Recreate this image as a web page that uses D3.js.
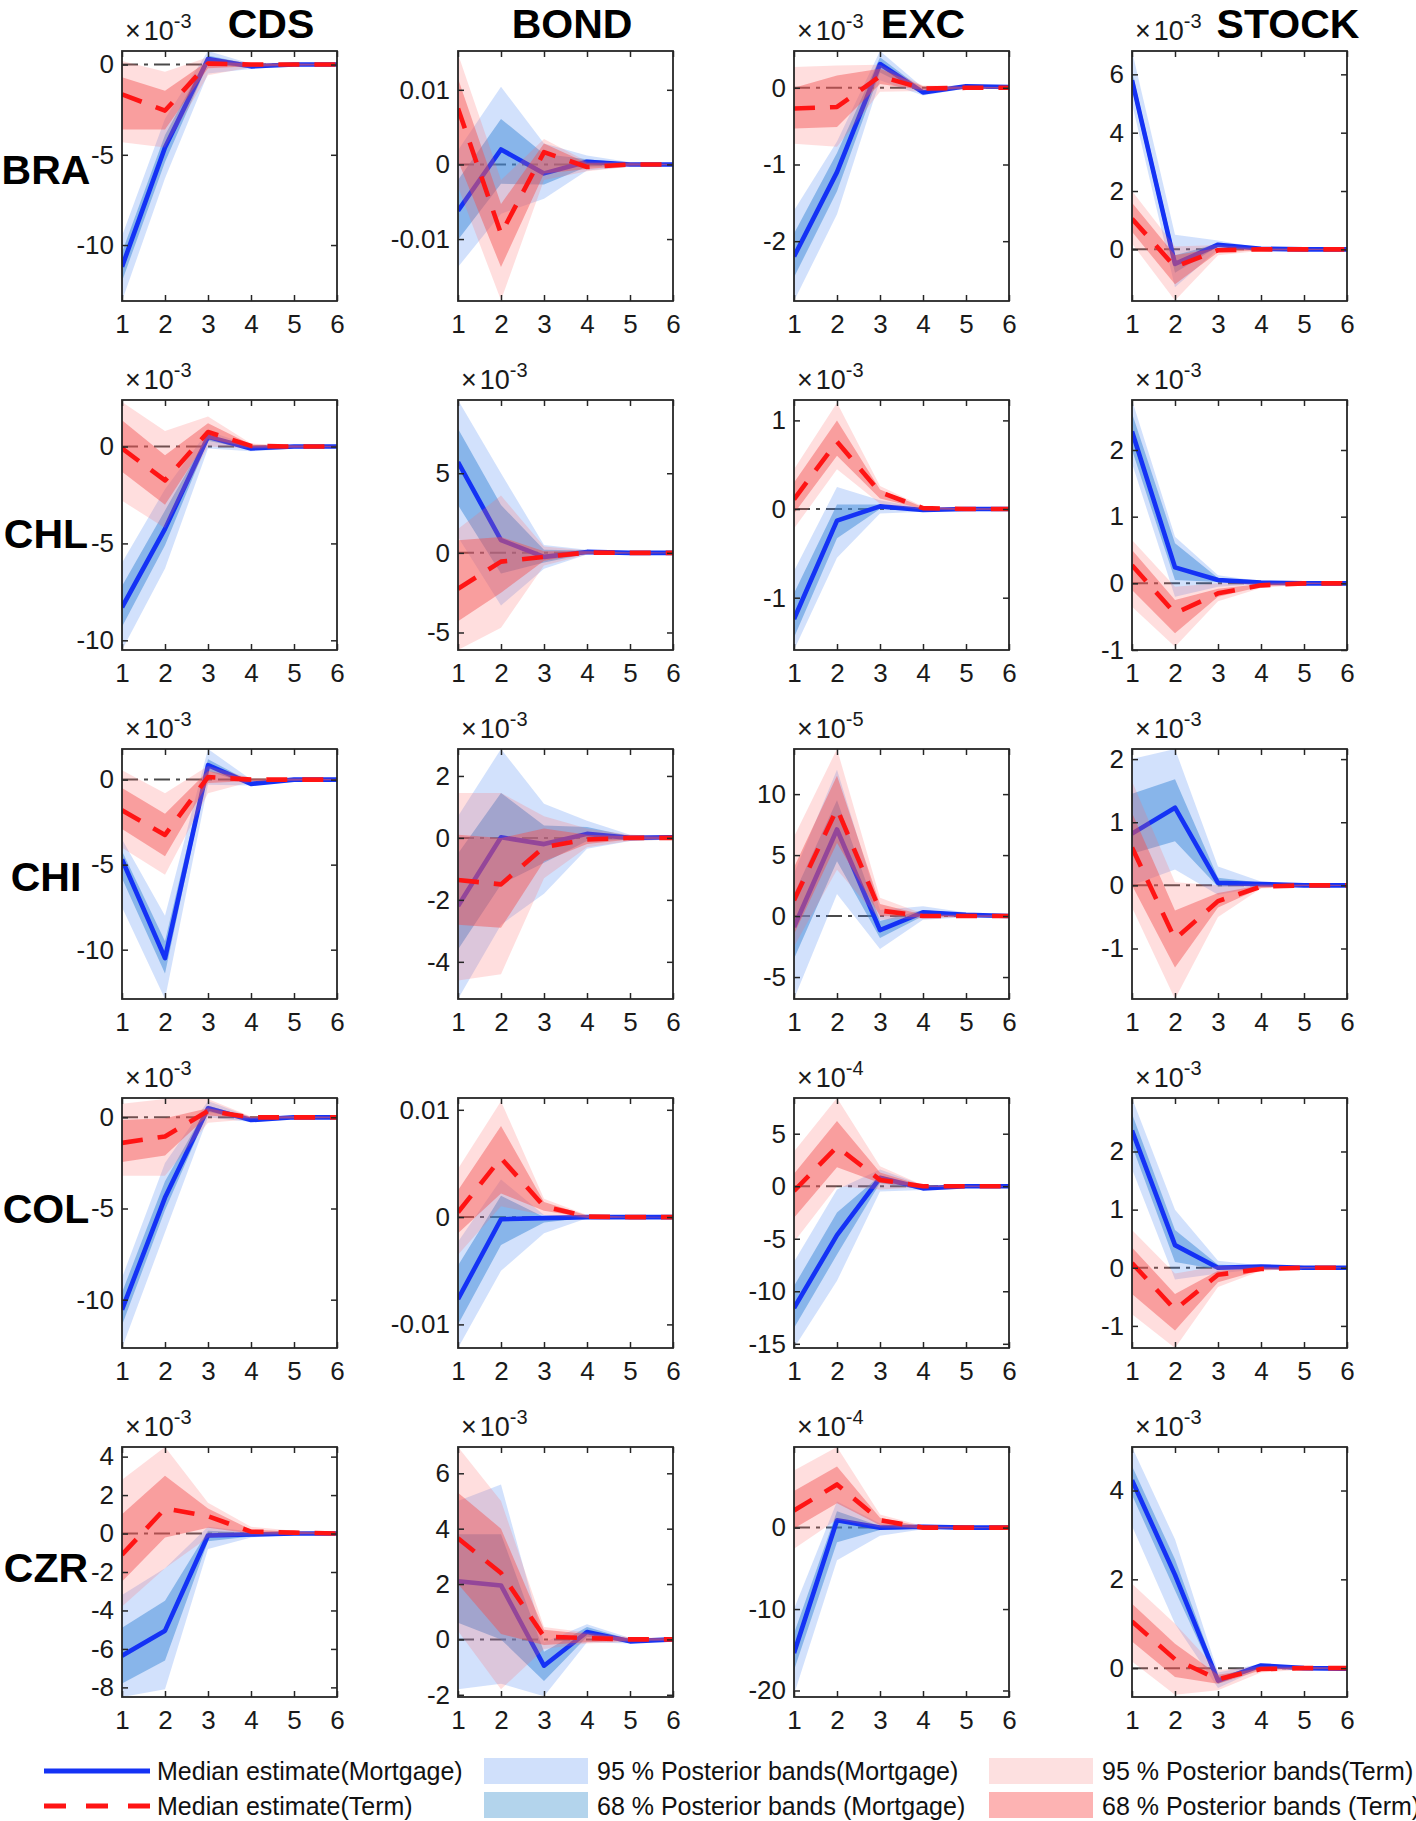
<!DOCTYPE html>
<html><head><meta charset="utf-8">
<script src="https://cdn.jsdelivr.net/npm/d3@7"></script>
<style>
body{margin:0;background:#fff}
svg{display:block}
text{font-family:"Liberation Sans",Arial,Helvetica,sans-serif}
</style>
</head><body>
<svg id="c" width="1416" height="1821"></svg>
<script>
// ---------------- DATA ----------------
const countries = ["BRA","CHL","CHI","COL","CZR"];
const variables = ["CDS","BOND","EXC","STOCK"];
const horizons  = [1,2,3,4,5,6];

// exponent of the axis multiplier ("" = none); values below are in these units
const exponents = [
  ["-3","","-3","-3"],
  ["-3","-3","-3","-3"],
  ["-3","-3","-5","-3"],
  ["-3","","-4","-3"],
  ["-3","-3","-4","-3"]
];
// y-axis limits (same units as the data; BOND for BRA/COL stored in 1e-3 units)
const yMin = [
  [-13.1,-18.3,-2.78,-1.77],
  [-10.5,-6.1,-1.59,-1.0],
  [-12.9,-5.2,-6.8,-1.8],
  [-12.65,-12.2,-15.4,-1.38],
  [-8.5,-2.08,-20.8,-0.65]
];
const yMax = [
  [0.75,15.2,0.48,6.8],
  [2.4,9.6,1.23,2.75],
  [1.8,2.87,13.7,2.16],
  [1.06,11.1,8.4,2.92],
  [4.5,6.95,9.9,4.98]
];
const yTicks = [
  [[-10,-5,0],[-10,0,10],[-2,-1,0],[0,2,4,6]],
  [[-10,-5,0],[-5,0,5],[-1,0,1],[-1,0,1,2]],
  [[-10,-5,0],[-4,-2,0,2],[-5,0,5,10],[-1,0,1,2]],
  [[-10,-5,0],[-10,0,10],[-15,-10,-5,0,5],[-1,0,1,2]],
  [[-8,-6,-4,-2,0,2,4],[-2,0,2,4,6],[-20,-10,0],[0,2,4]]
];
const yTickLabels = [
  [["-10","-5","0"],["-0.01","0","0.01"],["-2","-1","0"],["0","2","4","6"]],
  [["-10","-5","0"],["-5","0","5"],["-1","0","1"],["-1","0","1","2"]],
  [["-10","-5","0"],["-4","-2","0","2"],["-5","0","5","10"],["-1","0","1","2"]],
  [["-10","-5","0"],["-0.01","0","0.01"],["-15","-10","-5","0","5"],["-1","0","1","2"]],
  [["-8","-6","-4","-2","0","2","4"],["-2","0","2","4","6"],["-20","-10","0"],["0","2","4"]]
];

// Mortgage shock: median, 68% and 95% bands
const mortMedian = [
  [[-11.2,-4.6,0.3,-0.1,0,0],[-6.2,2.0,-1.2,0.35,0,0],[-2.2,-1.1,0.31,-0.06,0.02,0.01],[5.8,-0.5,0.16,0.02,0,0]],
  [[-8.3,-4.25,0.5,-0.1,0,0],[5.7,0.8,-0.25,0.06,0,0],[-1.24,-0.13,0.03,-0.01,0,0],[2.28,0.24,0.05,0.01,0,0]],
  [[-4.7,-10.5,0.85,-0.25,0,0],[-2.2,0.02,-0.2,0.13,0,0.02],[-0.9,7.1,-1.15,0.3,0.1,0],[0.82,1.23,0.04,0.02,0,0]],
  [[-10.55,-4.4,0.5,-0.15,0,0],[-7.65,-0.2,-0.1,0,0,0],[-11.6,-4.65,0.8,-0.2,0,0],[2.36,0.39,0.0,0.02,0,0]],
  [[-6.35,-5.05,-0.1,-0.05,0,0],[2.1,1.95,-0.95,0.27,-0.07,0],[-15.4,0.9,0,0.1,0,0],[4.23,2.1,-0.28,0.06,0,-0.01]]
];
const mortLo68 = [
  [[-12.0,-5.4,0.05,-0.2,-0.05,-0.03],[-10.1,-2.6,-2.7,-0.3,-0.15,-0.05],[-2.47,-1.35,0.2,-0.08,0.0,0.0],[5.5,-0.8,0.1,0.0,-0.02,-0.01]],
  [[-9.3,-5.1,0.3,-0.15,-0.05,-0.03],[3.0,-1.3,-0.6,-0.05,-0.03,-0.02],[-1.45,-0.33,0.0,-0.02,-0.01,-0.005],[2.0,0.05,0.02,0.0,-0.01,-0.005]],
  [[-5.8,-11.4,0.5,-0.3,-0.05,-0.03],[-3.6,-1.5,-0.8,-0.1,-0.05,-0.02],[-3.5,4.5,-1.8,0.0,0.0,-0.05],[0.5,0.7,-0.02,0.0,-0.01,-0.005]],
  [[-11.4,-5.1,0.3,-0.2,-0.05,-0.03],[-10.0,-2.6,-0.5,-0.05,-0.03,-0.02],[-13.5,-6.5,0.3,-0.3,-0.05,-0.03],[2.1,0.1,-0.03,0.0,-0.01,-0.005]],
  [[-7.8,-6.6,-0.4,-0.15,-0.05,-0.03],[0.6,0.0,-1.5,0.1,-0.12,-0.03],[-17.5,-1.8,-0.3,-0.1,-0.05,-0.03],[3.9,1.75,-0.35,0.02,-0.02,-0.02]]
];
const mortHi68 = [
  [[-10.4,-3.9,0.5,0,0.05,0.03],[-2.1,6.1,1.4,0.7,0.15,0.05],[-1.9,-0.85,0.4,-0.03,0.03,0.02],[6.1,-0.2,0.2,0.04,0.02,0.01]],
  [[-7.2,-3.3,0.6,0.0,0.05,0.03],[7.8,3.0,0.2,0.15,0.03,0.02],[-0.95,0.05,0.05,0.0,0.01,0.005],[2.55,0.6,0.08,0.02,0.01,0.005]],
  [[-4.2,-9.5,1.2,-0.15,0.05,0.03],[-0.5,1.45,0.4,0.35,0.05,0.04],[1.8,9.5,-0.4,0.5,0.2,0.05],[1.45,1.68,0.12,0.04,0.01,0.005]],
  [[-9.6,-3.5,0.65,-0.05,0.05,0.03],[-4.5,2.0,0.0,0.05,0.03,0.02],[-9.5,-2.5,1.0,-0.05,0.05,0.03],[2.65,0.65,0.05,0.03,0.01,0.005]],
  [[-4.9,-3.5,0.15,0.05,0.05,0.03],[3.8,3.8,-0.45,0.45,0.0,0.03],[-13.0,2.0,0.2,0.2,0.05,0.03],[4.55,2.45,-0.2,0.08,0.02,0.0]]
];
const mortLo95 = [
  [[-13.1,-6.3,-0.5,-0.25,-0.1,-0.05],[-13.75,-6.6,-4.6,-0.8,-0.3,-0.1],[-2.78,-1.65,0.1,-0.1,-0.01,-0.01],[5.0,-1.3,0.0,-0.03,-0.03,-0.02]],
  [[-10.5,-6.3,-0.1,-0.25,-0.1,-0.05],[1.0,-3.3,-1.0,-0.1,-0.05,-0.03],[-1.59,-0.55,-0.05,-0.03,-0.015,-0.01],[1.8,-0.2,-0.05,-0.01,-0.015,-0.01]],
  [[-7.5,-12.9,-0.3,-0.35,-0.1,-0.05],[-5.2,-2.8,-1.8,-0.35,-0.1,-0.05],[-6.8,1.8,-2.7,-0.3,-0.1,-0.1],[0.0,0.25,-0.15,-0.02,-0.015,-0.01]],
  [[-12.65,-6.3,0.0,-0.25,-0.1,-0.05],[-12.2,-5.0,-1.5,-0.1,-0.05,-0.03],[-15.4,-9.0,-0.5,-0.35,-0.1,-0.05],[1.7,-0.2,-0.1,-0.02,-0.015,-0.01]],
  [[-8.5,-8.1,-0.8,-0.2,-0.08,-0.05],[-1.8,-1.6,-2.05,-0.1,-0.15,-0.05],[-20.5,-4.0,-1.0,-0.2,-0.1,-0.05],[3.2,1.0,-0.45,0.0,-0.03,-0.03]]
];
const mortHi95 = [
  [[-9.5,-3.0,0.75,0.05,0.08,0.05],[1.9,10.4,2.8,1.2,0.3,0.1],[-1.6,-0.7,0.48,0.0,0.04,0.03],[6.8,0.5,0.3,0.05,0.03,0.02]],
  [[-6.0,-2.2,0.8,0.05,0.08,0.05],[9.6,5.0,0.5,0.2,0.05,0.03],[-0.7,0.25,0.1,0.01,0.015,0.01],[2.75,0.7,0.12,0.03,0.015,0.01]],
  [[-3.5,-8.0,1.8,0.0,0.08,0.05],[0.7,2.87,1.1,0.55,0.1,0.06],[3.5,12.0,0.5,0.8,0.3,0.1],[2.0,2.16,0.3,0.06,0.015,0.01]],
  [[-8.8,-2.5,0.9,0.0,0.08,0.05],[-2.3,3.5,0.2,0.1,0.05,0.03],[-7.2,-0.3,1.6,0.1,0.1,0.05],[2.92,1.0,0.12,0.04,0.015,0.01]],
  [[-3.2,-1.8,0.35,0.1,0.08,0.05],[5.0,5.6,-0.1,0.55,0.05,0.05],[-10.0,3.2,0.5,0.3,0.1,0.05],[4.98,2.9,-0.1,0.1,0.03,0.01]]
];

// Term shock: median, 68% and 95% bands
const termMedian = [
  [[-1.65,-2.55,0.05,0,0,0],[7.5,-9.3,1.65,-0.35,0,0],[-0.27,-0.25,0.15,-0.01,0,0],[1.05,-0.6,-0.03,0,0,0]],
  [[-0.1,-1.75,0.75,0.03,0,0],[-2.25,-0.55,-0.25,0.02,0,0],[0.11,0.76,0.19,0.01,0,0],[0.27,-0.45,-0.15,-0.03,0,0]],
  [[-1.8,-3.25,0.15,0,0,0],[-1.36,-1.5,-0.3,-0.05,0,0],[1.3,8.8,0.45,0,0,0],[0.6,-0.85,-0.25,-0.02,0,0]],
  [[-1.4,-1.05,0.35,0,0,0],[0.45,5.5,1.0,0.05,0,0],[-0.45,3.75,0.6,0,0,0],[0.08,-0.72,-0.12,-0.02,0,0]],
  [[-1.1,1.3,0.9,0.1,0.05,0],[3.65,2.4,0.1,0.05,0,0],[2.1,5.3,0.9,0,0,0],[1.05,0.2,-0.25,-0.02,0,0]]
];
const termLo68 = [
  [[-3.6,-3.6,-0.2,-0.1,-0.05,-0.03],[0.5,-13.75,-1.2,-0.6,-0.15,-0.05],[-0.53,-0.51,0.05,-0.03,-0.01,-0.01],[0.6,-1.2,-0.1,-0.03,-0.02,-0.01]],
  [[-1.3,-3.0,0.4,-0.05,-0.05,-0.03],[-4.3,-2.5,-0.5,-0.05,-0.03,-0.02],[-0.05,0.6,0.12,0.0,-0.01,-0.005],[-0.1,-0.75,-0.2,-0.05,-0.01,-0.005]],
  [[-2.9,-4.5,-0.2,-0.08,-0.05,-0.03],[-2.8,-2.9,-0.75,-0.2,-0.05,-0.03],[-1.5,6.0,0.0,-0.1,-0.05,-0.05],[0.0,-1.3,-0.35,-0.04,-0.01,-0.005]],
  [[-2.45,-2.1,0.1,-0.05,-0.05,-0.03],[-1.5,2.2,0.6,-0.05,-0.03,-0.02],[-3.0,1.8,0.3,-0.05,-0.05,-0.03],[-0.45,-1.08,-0.25,-0.04,-0.01,-0.005]],
  [[-2.5,-0.2,0.3,0.0,-0.03,-0.03],[2.0,0.2,-0.2,-0.1,-0.05,-0.03],[-0.1,3.0,0.3,-0.1,-0.05,-0.03],[0.6,-0.2,-0.35,-0.05,-0.02,-0.01]]
];
const termHi68 = [
  [[-0.7,-1.45,0.2,0.05,0.05,0.03],[11.5,-5.3,2.8,0.2,0.15,0.05],[0.0,0.16,0.25,0.02,0.01,0.01],[1.6,-0.2,0.05,0.02,0.02,0.01]],
  [[1.35,-0.45,1.2,0.1,0.05,0.03],[0.8,1.0,0.1,0.1,0.03,0.02],[0.3,1.0,0.22,0.02,0.01,0.005],[0.5,-0.25,-0.08,-0.01,0.01,0.005]],
  [[-0.5,-2.0,0.5,0.05,0.05,0.03],[0.1,0.0,0.3,0.1,0.05,0.03],[4.0,11.5,1.0,0.1,0.05,0.05],[1.15,-0.4,-0.12,0.0,0.01,0.005]],
  [[-0.15,-0.05,0.5,0.05,0.05,0.03],[2.5,8.5,1.4,0.15,0.03,0.02],[1.2,6.2,1.3,0.05,0.05,0.03],[0.35,-0.45,-0.05,0.0,0.01,0.005]],
  [[1.0,3.0,1.3,0.2,0.1,0.03],[5.3,4.0,0.35,0.2,0.05,0.03],[4.5,7.5,1.2,0.1,0.05,0.03],[1.45,0.55,-0.15,0.0,0.02,0.01]]
];
const termLo95 = [
  [[-4.3,-4.6,-0.6,-0.15,-0.08,-0.05],[-3.0,-18.2,-2.1,-0.9,-0.3,-0.1],[-0.73,-0.77,-0.05,-0.04,-0.02,-0.01],[0.2,-1.75,-0.2,-0.05,-0.03,-0.02]],
  [[-2.8,-4.2,0.0,-0.1,-0.08,-0.05],[-6.1,-4.7,-0.8,-0.1,-0.05,-0.03],[-0.22,0.45,0.06,-0.01,-0.015,-0.01],[-0.35,-0.95,-0.27,-0.07,-0.015,-0.01]],
  [[-4.0,-5.6,-0.8,-0.12,-0.08,-0.05],[-4.6,-4.4,-1.3,-0.3,-0.1,-0.05],[-2.5,3.8,-0.3,-0.2,-0.1,-0.1],[-0.35,-1.8,-0.5,-0.05,-0.015,-0.01]],
  [[-3.2,-3.2,-0.3,-0.1,-0.08,-0.05],[-3.5,1.0,0.2,-0.1,-0.05,-0.03],[-5.3,0.0,-0.3,-0.1,-0.1,-0.05],[-0.8,-1.38,-0.33,-0.05,-0.015,-0.01]],
  [[-3.8,-1.8,-0.2,-0.1,-0.06,-0.05],[0.3,-1.8,-0.35,-0.15,-0.08,-0.05],[-2.6,1.0,0.0,-0.15,-0.1,-0.05],[0.15,-0.6,-0.5,-0.1,-0.03,-0.02]]
];
const termHi95 = [
  [[0.2,-0.4,0.4,0.1,0.08,0.05],[14.8,-2.1,3.4,0.4,0.3,0.1],[0.27,0.29,0.3,0.03,0.02,0.01],[2.0,0.1,0.15,0.04,0.03,0.02]],
  [[2.3,0.8,1.55,0.15,0.08,0.05],[1.5,3.6,0.4,0.15,0.05,0.03],[0.45,1.2,0.26,0.03,0.015,0.01],[0.65,-0.05,0.0,0.01,0.015,0.01]],
  [[0.55,-0.8,0.8,0.1,0.08,0.05],[1.45,1.45,0.7,0.3,0.1,0.05],[6.5,13.7,1.5,0.2,0.1,0.1],[1.65,0.05,0.0,0.02,0.015,0.01]],
  [[0.75,1.0,1.0,0.05,0.08,0.05],[4.5,10.8,1.7,0.2,0.05,0.03],[3.3,8.4,1.9,0.1,0.1,0.05],[0.65,-0.1,0.03,0.02,0.015,0.01]],
  [[2.8,4.5,1.6,0.35,0.15,0.05],[6.95,5.0,0.45,0.25,0.08,0.05],[7.0,9.9,1.6,0.2,0.1,0.05],[1.9,1.0,-0.05,0.05,0.03,0.02]]
];

const legendLabels = {
  mortLine: "Median estimate(Mortgage)",
  termLine: "Median estimate(Term)",
  mort95: "95 % Posterior bands(Mortgage)",
  mort68: "68 % Posterior bands (Mortgage)",
  term95: "95 % Posterior bands(Term)",
  term68: "68 % Posterior bands (Term)"
};

// ---------------- LAYOUT / STYLE ----------------
const colLeft = [122, 458, 794, 1132];
const rowTop  = [51, 400, 749, 1098, 1447];
const plotW = 215, plotH = 250;
const titleX = [271, 572, 923, 1288];
const rowLabelDy = [-6, 9, 3, -14, -4];
const axisColor = "#262626";
const blueLine = "#1432f5", redLine = "#ff1414";
const blue95 = {fill:"#4d88f5", op:0.25}, blue68 = {fill:"#3d8ad8", op:0.5};
const red95  = {fill:"#ff6b6b", op:0.22}, red68  = {fill:"#f25050", op:0.45};
const FONT = '"Liberation Sans",Arial,Helvetica,sans-serif';

const svg = d3.select("#c");

function drawPanel(r, c) {
  const g = svg.append("g").attr("transform", `translate(${colLeft[c]},${rowTop[r]})`);
  const x = d3.scaleLinear().domain(d3.extent(horizons)).range([0, plotW]);
  const y = d3.scaleLinear().domain([yMin[r][c], yMax[r][c]]).range([plotH, 0]);
  const id = `clip-${r}-${c}`;
  g.append("clipPath").attr("id", id).append("rect").attr("width", plotW).attr("height", plotH);
  const pg = g.append("g").attr("clip-path", `url(#${id})`);

  // zero reference line
  pg.append("line").attr("x1", 0).attr("x2", plotW).attr("y1", y(0)).attr("y2", y(0))
    .attr("stroke", "#4a4a4a").attr("stroke-width", 2).attr("stroke-dasharray", "16,6,4,6");

  const band = (lo, hi, st) => pg.append("path").datum(horizons)
    .attr("d", d3.area().x(d => x(d)).y0((d, i) => y(lo[i])).y1((d, i) => y(hi[i])))
    .attr("fill", st.fill).attr("fill-opacity", st.op).attr("stroke", "none");
  const line = (v, col, dash) => pg.append("path").datum(horizons)
    .attr("d", d3.line().x(d => x(d)).y((d, i) => y(v[i])))
    .attr("fill", "none").attr("stroke", col).attr("stroke-width", 4.6)
    .attr("stroke-dasharray", dash || null).attr("stroke-linejoin", "round");

  band(mortLo95[r][c], mortHi95[r][c], blue95);
  band(mortLo68[r][c], mortHi68[r][c], blue68);
  line(mortMedian[r][c], blueLine);
  band(termLo95[r][c], termHi95[r][c], red95);
  band(termLo68[r][c], termHi68[r][c], red68);
  line(termMedian[r][c], redLine, "21,15");

  // axes with inward ticks on all four sides
  const style = (a) => {
    a.select(".domain").remove();
    a.selectAll("line").attr("stroke", axisColor).attr("stroke-width", 1.5);
    a.selectAll("text").attr("font-size", 26).attr("font-family", FONT).attr("fill", "#1a1a1a");
  };
  g.append("g").attr("transform", `translate(0,${plotH})`)
    .call(d3.axisBottom(x).tickValues(horizons).tickFormat(d3.format("d")).tickSizeInner(-6).tickSizeOuter(0).tickPadding(14))
    .call(style);
  g.append("g")
    .call(d3.axisTop(x).tickValues(horizons).tickFormat("").tickSizeInner(-6).tickSizeOuter(0))
    .call(style);
  const labs = yTickLabels[r][c];
  g.append("g")
    .call(d3.axisLeft(y).tickValues(yTicks[r][c]).tickFormat((d, i) => labs[i]).tickSizeInner(-6).tickSizeOuter(0).tickPadding(8))
    .call(style);
  g.append("g").attr("transform", `translate(${plotW},0)`)
    .call(d3.axisRight(y).tickValues(yTicks[r][c]).tickFormat("").tickSizeInner(-6).tickSizeOuter(0))
    .call(style);

  g.append("rect").attr("width", plotW).attr("height", plotH)
    .attr("fill", "none").attr("stroke", axisColor).attr("stroke-width", 1.8);

  // exponent label
  if (exponents[r][c] !== "") {
    const t = g.append("text").attr("x", 3).attr("y", -11)
      .attr("font-size", 27).attr("fill", "#1a1a1a").attr("font-family", FONT);
    t.append("tspan").text("\u00d7");
    t.append("tspan").attr("dx", 3).text("10");
    t.append("tspan").attr("dy", -12).attr("font-size", 20).text(exponents[r][c]);
  }

  if (c === 0) {
    svg.append("text").attr("x", 46).attr("y", rowTop[r] + plotH / 2 + rowLabelDy[r])
      .attr("text-anchor", "middle").attr("dominant-baseline", "central")
      .attr("font-size", 41).attr("font-weight", "bold").attr("font-family", FONT)
      .attr("fill", "#000").text(countries[r]);
  }
}

for (let r = 0; r < countries.length; r++)
  for (let c = 0; c < variables.length; c++) drawPanel(r, c);

// column titles
variables.forEach((v, c) => {
  svg.append("text").attr("x", titleX[c]).attr("y", 37.5).attr("text-anchor", "middle")
    .attr("font-size", 41).attr("font-weight", "bold").attr("font-family", FONT)
    .attr("fill", "#000").text(v);
});

// legend
const lg = svg.append("g").attr("font-family", FONT).attr("font-size", 25).attr("fill", "#111");
lg.append("line").attr("x1", 44).attr("x2", 150).attr("y1", 1771).attr("y2", 1771)
  .attr("stroke", blueLine).attr("stroke-width", 5);
lg.append("line").attr("x1", 44).attr("x2", 150).attr("y1", 1806).attr("y2", 1806)
  .attr("stroke", redLine).attr("stroke-width", 5).attr("stroke-dasharray", "22,20");
const lt = (x, y, s) => lg.append("text").attr("x", x).attr("y", y).attr("dominant-baseline", "central").text(s);
lt(157, 1771, legendLabels.mortLine);
lt(157, 1806, legendLabels.termLine);
lg.append("rect").attr("x", 484).attr("y", 1758).attr("width", 104).attr("height", 26).attr("fill", "#d0e0fb");
lg.append("rect").attr("x", 484).attr("y", 1792).attr("width", 104).attr("height", 26).attr("fill", "#b3d4ec");
lt(597, 1771, legendLabels.mort95);
lt(597, 1806, legendLabels.mort68);
lg.append("rect").attr("x", 989).attr("y", 1758).attr("width", 104).attr("height", 26).attr("fill", "#fde0e0");
lg.append("rect").attr("x", 989).attr("y", 1792).attr("width", 104).attr("height", 26).attr("fill", "#fdb3b3");
lt(1102, 1771, legendLabels.term95);
lt(1102, 1806, legendLabels.term68);
</script>
</body></html>
